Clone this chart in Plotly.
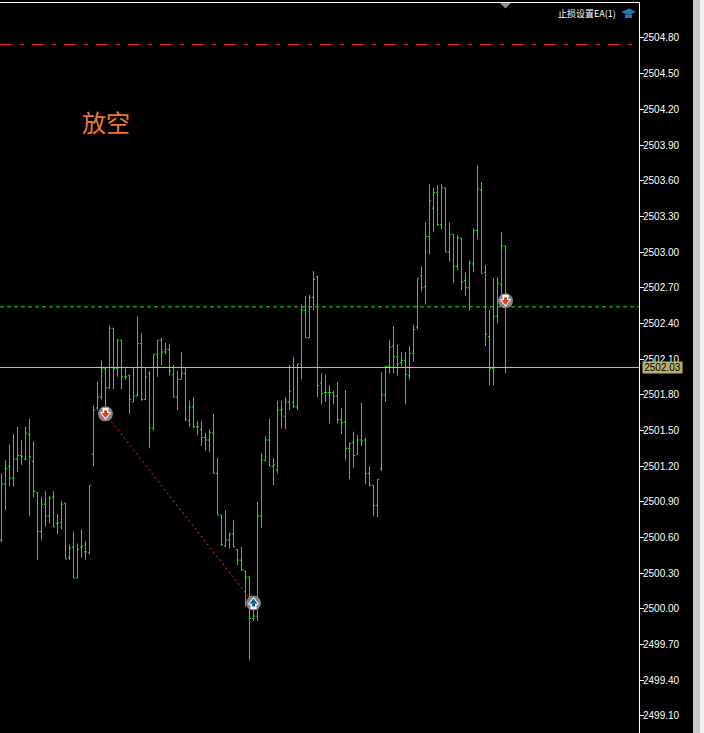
import plotly.graph_objects as go

bar_open = [2500.58,2501.05,2501.20,2501.10,2501.26,2501.29,2501.26,2501.47,2501.24,2500.98,
2500.65,2500.88,2500.78,2500.94,2500.72,2500.73,2500.89,2500.43,2500.52,2500.26,
2500.52,2500.48,2500.47,2501.30,2501.69,2501.78,2502.02,2501.86,2502.36,2502.02,
2502.26,2501.95,2501.96,2501.74,2501.79,2502.23,2501.76,2501.98,2501.52,2502.14,
2502.26,2502.16,2502.18,2501.97,2501.78,2501.93,2501.98,2501.58,2501.70,2501.53,
2501.51,2501.44,2501.42,2501.48,2501.14,2500.79,2500.53,2500.58,2500.63,2500.50,
2500.41,2500.32,2500.27,2499.92,2499.94,2500.78,2501.25,2501.42,2501.20,2501.17,
2501.67,2501.62,2501.74,2501.74,2501.70,2502.06,2502.51,2502.28,2502.62,2502.79,
2501.90,2501.82,2501.82,2501.82,2501.79,2501.59,2501.57,2501.35,2501.40,2501.30,
2501.42,2501.42,2501.14,2501.04,2500.87,2501.18,2501.80,2502.04,2502.21,2502.12,
2502.07,2502.09,2501.96,2502.15,2502.37,2502.80,2502.71,2503.13,2503.37,2503.50,
2503.23,2503.54,2503.00,2503.15,2502.88,2503.12,2502.76,2502.70,2502.90,2503.18,
2503.52,2502.83,2502.29,2502.02,2502.46,2502.73,2503.05]
bar_high = [2501.14,2501.25,2501.38,2501.47,2501.53,2501.42,2501.53,2501.60,2501.41,2500.98,
2500.94,2500.99,2500.95,2500.99,2500.80,2500.91,2500.89,2500.54,2500.65,2500.55,
2500.67,2500.57,2501.04,2501.71,2501.91,2502.09,2502.02,2502.38,2502.36,2502.27,
2502.26,2502.02,2501.97,2502.03,2502.46,2502.32,2502.03,2502.00,2502.14,2502.26,
2502.28,2502.24,2502.23,2502.05,2502.00,2502.16,2502.03,2501.75,2501.78,2501.58,
2501.58,2501.48,2501.51,2501.64,2501.27,2500.79,2500.83,2500.64,2500.75,2500.50,
2500.52,2500.32,2500.27,2500.05,2500.90,2501.31,2501.45,2501.60,2501.27,2501.75,
2501.75,2501.78,2502.05,2502.12,2502.06,2502.56,2502.63,2502.64,2502.84,2502.80,
2501.98,2501.97,2501.88,2501.83,2501.91,2501.69,2501.84,2501.40,2501.49,2501.46,
2501.73,2501.44,2501.20,2501.04,2501.09,2501.99,2502.04,2502.26,2502.38,2502.22,
2502.16,2502.16,2502.21,2502.39,2502.78,2502.88,2503.25,2503.57,2503.54,2503.56,
2503.57,2503.54,2503.25,2503.15,2503.14,2503.12,2502.83,2502.93,2503.20,2503.73,
2503.59,2502.89,2502.51,2502.78,2502.79,2503.17,2503.05]
bar_low = [2500.56,2500.83,2501.03,2501.03,2501.15,2501.21,2501.25,2500.78,2500.94,2500.41,
2500.58,2500.69,2500.72,2500.69,2500.63,2500.67,2500.42,2500.41,2500.26,2500.26,
2500.43,2500.41,2500.46,2501.20,2501.67,2501.76,2501.59,2501.85,2501.85,2501.95,
2501.85,2501.93,2501.64,2501.74,2501.79,2501.75,2501.76,2501.35,2501.50,2501.95,
2502.05,2502.14,2501.96,2501.78,2501.67,2501.93,2501.58,2501.53,2501.52,2501.46,
2501.37,2501.33,2501.32,2501.14,2500.79,2500.53,2500.52,2500.51,2500.52,2500.37,
2500.32,2500.02,2499.57,2499.90,2499.90,2500.68,2501.24,2501.20,2501.04,2501.14,
2501.52,2501.51,2501.67,2501.69,2501.67,2501.93,2502.28,2502.28,2502.51,2501.78,
2501.72,2501.74,2501.56,2501.72,2501.56,2501.47,2501.25,2501.09,2501.19,2501.30,
2501.37,2501.05,2501.03,2500.78,2500.77,2501.16,2501.74,2501.98,2501.98,2501.96,
2502.04,2501.72,2501.93,2502.08,2502.35,2502.67,2502.56,2502.98,2503.17,2503.22,
2503.19,2503.00,2502.92,2502.74,2502.85,2502.68,2502.63,2502.51,2502.83,2503.11,
2502.82,2502.21,2501.88,2501.88,2502.40,2502.61,2501.98]
bar_close = [2501.05,2501.18,2501.10,2501.26,2501.29,2501.28,2501.48,2501.28,2500.99,2500.65,
2500.88,2500.78,2500.93,2500.69,2500.72,2500.88,2500.42,2500.51,2500.26,2500.50,
2500.53,2500.48,2501.04,2501.67,2501.78,2502.02,2501.86,2502.36,2502.02,2502.26,
2501.95,2501.95,2501.76,2501.79,2502.23,2501.76,2501.95,2501.52,2502.14,2502.26,
2502.16,2502.18,2502.00,2501.78,2501.93,2501.98,2501.59,2501.70,2501.53,2501.53,
2501.44,2501.42,2501.48,2501.14,2500.79,2500.54,2500.58,2500.63,2500.52,2500.41,
2500.33,2500.27,2499.92,2499.94,2500.78,2501.25,2501.42,2501.20,2501.21,2501.67,
2501.68,2501.74,2501.83,2501.70,2502.06,2502.51,2502.28,2502.62,2502.77,2501.88,
2501.81,2501.82,2501.82,2501.79,2501.59,2501.57,2501.35,2501.39,2501.29,2501.42,
2501.41,2501.14,2501.04,2500.87,2501.09,2501.80,2502.04,2502.20,2502.12,2502.06,
2502.09,2501.97,2502.15,2502.35,2502.78,2502.70,2503.13,2503.43,2503.50,2503.23,
2503.54,2503.00,2503.15,2502.88,2503.12,2502.75,2502.70,2502.91,2503.18,2503.53,
2502.82,2502.31,2502.02,2502.46,2502.74,2503.05,2502.58]
bar_index = list(range(len(bar_open)))

tick_prices = [2504.80,2504.50,2504.20,2503.90,2503.60,2503.30,2503.00,2502.70,2502.40,2502.10,
2501.80,2501.50,2501.20,2500.90,2500.60,2500.30,2500.00,2499.70,2499.40,2499.10]
tick_labels = [f"{p:.2f}" for p in tick_prices]

target_level = 2504.745
entry_level = 2502.54
bid_level = 2502.03
trade_bars = [26, 63]
trade_prices = [2501.64, 2500.05]
sell_bars = [26, 126]
sell_prices = [2501.64, 2502.59]
buy_bars = [63]
buy_prices = [2500.05]

W, H = 704, 733
PLOT_R, PLOT_T = 639, 3
GREEN = "#14e614"
x_lo, x_hi = -0.375, 159.375

fig = go.Figure()
fig.add_trace(go.Ohlc(x=bar_index, open=bar_open, high=bar_high, low=bar_low, close=bar_close,
    increasing=dict(line=dict(color=GREEN, width=1)),
    decreasing=dict(line=dict(color=GREEN, width=1)),
    tickwidth=0.4, hoverinfo="skip", showlegend=False))

def hline(level, color, dash):
    fig.add_trace(go.Scatter(x=[x_lo, x_hi], y=[level, level], mode="lines",
        line=dict(color=color, width=1, dash=dash), hoverinfo="skip", showlegend=False))

hline(target_level, "#ff1a1a", "12px,8px,4px,8px")
hline(entry_level, "#14e614", "4px,3px")
hline(bid_level, "#c8c890", "solid")

fig.add_trace(go.Scatter(x=trade_bars, y=trade_prices, mode="lines",
    line=dict(color="#e8401c", width=1, dash="2px,3px"), hoverinfo="skip", showlegend=False))

def dot(xs, ys, **marker):
    fig.add_trace(go.Scatter(x=xs, y=ys, mode="markers", marker=dict(line=dict(width=0), **marker),
        hoverinfo="skip", showlegend=False))

def trade_marker(xs, ys, col, down):
    # Round badge with a block arrow (stem + head) on top of it.
    dot(xs, ys, size=15, color="#858585", symbol="circle")
    stem_angle = 180 if down else 0
    head_angle = 0 if down else 180
    for stem, stem_off, head, fill in [(6, 3, 10, "white"), (3, 2, 7, col)]:
        dot(xs, ys, size=stem, color=fill, symbol="square", angle=stem_angle, standoff=stem_off)
        dot(xs, ys, size=head, color=fill, symbol="triangle-down", angle=head_angle, standoff=1)

trade_marker(sell_bars, sell_prices, "#e8401c", True)
trade_marker(buy_bars, buy_prices, "#0a5fa8", False)

def px(x):
    return x / PLOT_R
def py(y):
    return 1 - (y - PLOT_T) / (H - PLOT_T)

shapes = [
    dict(type="rect", xref="paper", yref="paper", x0=px(693), x1=px(700), y0=py(H), y1=py(0),
         fillcolor="#c8c8c8", line_width=0, layer="above"),
    dict(type="rect", xref="paper", yref="paper", x0=px(700), x1=px(W), y0=py(H), y1=py(0),
         fillcolor="#f2f2f2", line_width=0, layer="above"),
    dict(type="path", xref="paper", yref="paper", layer="above", line_width=0, fillcolor="#8494a4",
         path=f"M {px(500)} {py(3)} L {px(511)} {py(3)} L {px(505.5)} {py(8.5)} Z"),
    dict(type="path", xref="paper", yref="paper", layer="above", line_width=0, fillcolor="#1e78b4",
         path=f"M {px(621)} {py(12)} L {px(629)} {py(8.5)} L {px(636)} {py(12)} L {px(629)} {py(15)} Z"),
    dict(type="path", xref="paper", yref="paper", layer="above", line_width=0, fillcolor="#1e78b4",
         path=f"M {px(625)} {py(14.5)} L {px(632)} {py(14.5)} L {px(632)} {py(18)} L {px(625)} {py(18)} Z"),
]

annotations = [
    dict(text="放空", xref="paper", yref="paper", x=px(80), y=py(121), xanchor="left", yanchor="middle",
         showarrow=False, font=dict(family="Noto Sans CJK SC", size=24, color="#f07830")),
    dict(text="止损设置EA(1)", xref="paper", yref="paper", x=px(618), y=py(13), xanchor="right", yanchor="middle",
         showarrow=False, font=dict(family="Noto Sans CJK SC, Liberation Sans", size=9, color="white")),
    dict(text=f"{bid_level:.2f}", xref="paper", yref="y", x=px(642), y=bid_level, xanchor="left", yanchor="middle",
         showarrow=False, bgcolor="#b8b070", borderpad=0, width=39, height=11,
         font=dict(family="Liberation Sans", size=10, color="black")),
]

fig.update_layout(
    width=W, height=H, paper_bgcolor="black", plot_bgcolor="black",
    margin=dict(l=0, r=W-PLOT_R, t=PLOT_T, b=0), showlegend=False,
    shapes=shapes, annotations=annotations,
    xaxis=dict(range=[x_lo, x_hi], rangeslider=dict(visible=False), showgrid=False, zeroline=False,
               showticklabels=False, ticks="", side="top", showline=True, linecolor="white", linewidth=1),
    yaxis=dict(range=[2498.957, 2505.094], side="right", showgrid=False, zeroline=False,
               tickvals=tick_prices, ticktext=tick_labels, ticks="outside", ticklen=4, tickcolor="white",
               tickwidth=1, showline=True, linecolor="white", linewidth=1, ticklabelstandoff=-3,
               tickfont=dict(family="Liberation Sans", size=10, color="white")),
)

fig.write_html("out.html", config=dict(displayModeBar=False),
               post_script="document.body.style.margin='0';document.body.style.background='black';")
